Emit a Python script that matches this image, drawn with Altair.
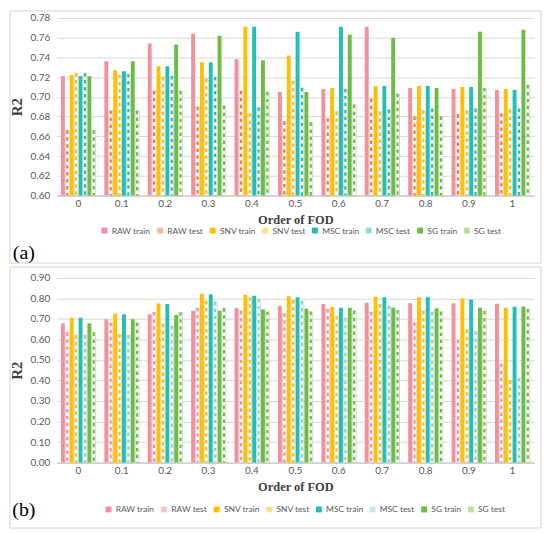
import altair as alt
import pandas as pd

fod = ["0", "0.1", "0.2", "0.3", "0.4", "0.5", "0.6", "0.7", "0.8", "0.9", "1"]
series = ["RAW train", "RAW test", "SNV train", "SNV test",
          "MSC train", "MSC test", "SG train", "SG test"]
tests = ["RAW test", "SNV test", "MSC test", "SG test"]

# Panel (a)
raw_train_a = [0.721, 0.736, 0.754, 0.764, 0.738, 0.705, 0.708, 0.771, 0.709, 0.708, 0.707]
raw_test_a = [0.666, 0.686, 0.706, 0.690, 0.706, 0.675, 0.678, 0.698, 0.680, 0.682, 0.683]
snv_train_a = [0.722, 0.727, 0.731, 0.735, 0.771, 0.742, 0.709, 0.711, 0.711, 0.710, 0.708]
snv_test_a = [0.724, 0.722, 0.720, 0.718, 0.683, 0.716, 0.685, 0.685, 0.686, 0.686, 0.687]
msc_train_a = [0.721, 0.726, 0.731, 0.735, 0.771, 0.766, 0.771, 0.711, 0.711, 0.710, 0.707]
msc_test_a = [0.724, 0.723, 0.721, 0.720, 0.689, 0.709, 0.708, 0.687, 0.688, 0.688, 0.688]
sg_train_a = [0.721, 0.736, 0.753, 0.762, 0.737, 0.705, 0.763, 0.760, 0.709, 0.766, 0.768]
sg_test_a = [0.666, 0.686, 0.706, 0.691, 0.705, 0.674, 0.692, 0.703, 0.680, 0.709, 0.712]

# Panel (b)
raw_train_b = [0.679, 0.698, 0.723, 0.740, 0.753, 0.763, 0.773, 0.779, 0.777, 0.777, 0.774]
raw_test_b = [0.634, 0.681, 0.732, 0.753, 0.739, 0.727, 0.747, 0.734, 0.682, 0.598, 0.481]
snv_train_b = [0.706, 0.726, 0.776, 0.823, 0.818, 0.811, 0.758, 0.808, 0.806, 0.800, 0.755]
snv_test_b = [0.621, 0.624, 0.676, 0.787, 0.805, 0.792, 0.713, 0.771, 0.739, 0.647, 0.400]
msc_train_b = [0.706, 0.723, 0.773, 0.821, 0.813, 0.806, 0.755, 0.806, 0.806, 0.795, 0.760]
msc_test_b = [0.621, 0.621, 0.665, 0.784, 0.797, 0.787, 0.705, 0.763, 0.734, 0.639, 0.411]
sg_train_b = [0.679, 0.698, 0.719, 0.740, 0.747, 0.750, 0.755, 0.755, 0.752, 0.755, 0.761]
sg_test_b = [0.634, 0.681, 0.732, 0.752, 0.735, 0.735, 0.740, 0.742, 0.735, 0.739, 0.747]

ticks_a = [0.60, 0.62, 0.64, 0.66, 0.68, 0.70, 0.72, 0.74, 0.76, 0.78]
ticks_b = [0.0, 0.1, 0.2, 0.3, 0.4, 0.5, 0.6, 0.7, 0.8, 0.9]

PINK, YELLOW, TEAL, GREEN = "#F4909C", "#FFC000", "#22BFB6", "#6CBD42"

W = 481


def long(lists):
    rows = []
    for s, vals in zip(series, lists):
        for f, v in zip(fod, vals):
            rows.append({"fod": f, "series": s, "value": v})
    return pd.DataFrame(rows)


def panel(df, ymin, ymax, ticks, h, dash_colors, tints, letter,
          legend_x, legend_y, frame_top, frame_bottom, letter_y):
    base = alt.Chart(df)
    x = alt.X("fod:N", sort=fod,
              scale=alt.Scale(paddingInner=0.2, paddingOuter=0.1),
              axis=alt.Axis(labelAngle=0, ticks=False, domainColor="#bfbfbf",
                            labelColor="#595959", labelFont="Lato", labelFontSize=10,
                            labelPadding=3, title="Order of FOD",
                            titleFont="Liberation Serif", titleFontSize=12.5,
                            titleFontWeight="bold", titleColor="#404040",
                            titlePadding=5, grid=False))
    xo = alt.XOffset("series:N", scale=alt.Scale(domain=series, paddingInner=0.12))
    ysc = alt.Scale(domain=[ymin, ymax], zero=False, nice=False)
    yax = alt.Axis(values=ticks, format=".2f", domain=False, ticks=False,
                   labelOverlap=False,
                   labelColor="#595959", labelFont="Lato", labelFontSize=10,
                   labelPadding=7, gridColor="#d9d9d9", title="R2",
                   titleFont="Liberation Serif", titleFontSize=15,
                   titleFontWeight="bold", titleColor="#404040", titlePadding=6)
    y = alt.Y("value:Q", scale=ysc, axis=yax)
    colors = [PINK, tints[0], YELLOW, tints[1], TEAL, tints[2], GREEN, tints[3]]
    bars = base.mark_bar().encode(
        x=x, xOffset=xo, y=y, y2=alt.datum(ymin),
        color=alt.Color("series:N",
                        scale=alt.Scale(domain=series, range=colors),
                        legend=alt.Legend(orient="none", legendX=legend_x,
                                          legendY=legend_y, direction="horizontal",
                                          gridAlign="none", title=None,
                                          symbolType="square",
                                          symbolSize=36, symbolStrokeWidth=0,
                                          labelFont="Lato", labelFontSize=8.5,
                                          labelColor="#595959", columnPadding=5,
                                          labelOffset=3)))
    test_filter = "indexof(datum.series, 'test') >= 0"
    white = base.transform_filter(test_filter).mark_bar(
        fill="white", stroke="#c4c4c4", strokeWidth=0.6).encode(
        x=x, xOffset=xo, y=y, y2=alt.datum(ymin))
    rules = base.transform_filter(test_filter).mark_rule(
        strokeWidth=2.2, strokeDash=[3.5, 3.5]).encode(
        x=x, xOffset=xo, y=y, y2=alt.datum(ymin),
        stroke=alt.Stroke("series:N", scale=alt.Scale(domain=tests, range=dash_colors),
                          legend=None))
    deco = alt.Chart(alt.Data(values=[{"k": 1}]))
    frame = deco.mark_rect(fillOpacity=0, stroke="#d6d6d6", strokeWidth=1).encode(
        x=alt.value(-47), x2=alt.value(W + 7),
        y=alt.value(frame_top), y2=alt.value(frame_bottom))
    label = deco.mark_text(text=letter, font="Liberation Serif", fontSize=20,
                           align="center", baseline="middle", color="#000000").encode(
        x=alt.value(-33), y=alt.value(letter_y))
    return alt.layer(frame, bars, white, rules, label).properties(width=W, height=h)


dfa = long([raw_train_a, raw_test_a, snv_train_a, snv_test_a,
            msc_train_a, msc_test_a, sg_train_a, sg_test_a])
dfb = long([raw_train_b, raw_test_b, snv_train_b, snv_test_b,
            msc_train_b, msc_test_b, sg_train_b, sg_test_b])

ha, hb = 179, 186
pa = panel(dfa, 0.60, 0.78, ticks_a, ha,
           ["#F07A3A", "#FFC000", "#25BDB4", "#6CBD42"],
           ["#F9B896", "#FFE08A", "#8FDDD8", "#B9E09F"],
           "(a)", 44, 210, -7, ha + 68, ha + 58)
pb = panel(dfb, 0.0, 0.90, ticks_b, hb,
           ["#F4909C", "#FFC000", "#7ED8D3", "#6CBD42"],
           ["#F9C5CC", "#FFE08A", "#BDEBE8", "#B9E09F"],
           "(b)", 48, 229, -11, hb + 66, hb + 48)

chart = alt.vconcat(pa, pb, spacing=2).resolve_scale(
    color="independent", stroke="independent", x="independent", y="independent"
).resolve_legend(color="independent").properties(
    padding=0, background="white").configure_view(stroke="transparent")

chart.save("out.html", embed_options={"renderer": "svg", "actions": False})
